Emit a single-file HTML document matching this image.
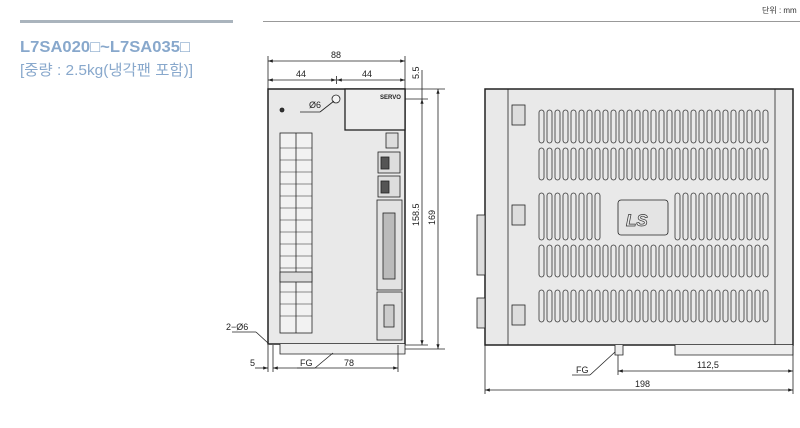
<!DOCTYPE html>
<html><head><meta charset="utf-8"><style>
html,body{margin:0;padding:0;background:#fff;}
svg{display:block;font-family:"Liberation Sans","Noto Sans CJK KR",sans-serif;}
</style></head><body>
<svg width="800" height="428" viewBox="0 0 800 428" xmlns="http://www.w3.org/2000/svg">
<defs>
<marker id="ar" markerWidth="6" markerHeight="6" refX="6" refY="3" orient="auto"><path d="M0,1 L6,3 L0,5z" fill="#222"/></marker>
<marker id="al" markerWidth="6" markerHeight="6" refX="0" refY="3" orient="auto"><path d="M6,1 L0,3 L6,5z" fill="#222"/></marker>
</defs>
<rect x="20" y="20" width="213" height="3" fill="#aab4bd"/>
<line x1="263" y1="21.5" x2="800" y2="21.5" stroke="#999" stroke-width="1"/>
<text x="762" y="13" font-size="8" fill="#333">단위 : mm</text>
<text x="20" y="52" font-size="16" font-weight="bold" fill="#88a8cc" textLength="170" lengthAdjust="spacingAndGlyphs">L7SA020□~L7SA035□</text>
<text x="20" y="75" font-size="15" fill="#88a8cc" textLength="173" lengthAdjust="spacingAndGlyphs">[중량 : 2.5kg(냉각팬 포함)]</text>

<g stroke="#222" stroke-width="0.8" fill="none" font-size="9">
<line x1="268" y1="61" x2="405" y2="61" marker-start="url(#al)" marker-end="url(#ar)"/>
<line x1="268" y1="56" x2="268" y2="89"/><line x1="405" y1="56" x2="405" y2="89"/>
<line x1="268" y1="80" x2="336" y2="80" marker-start="url(#al)" marker-end="url(#ar)"/>
<line x1="337" y1="80" x2="405" y2="80" marker-start="url(#al)" marker-end="url(#ar)"/>
<line x1="336.5" y1="76" x2="336.5" y2="84"/>
<rect x="268" y="89" width="137" height="255" fill="#e9e9e9" stroke-width="1.5"/>
<rect x="345" y="89" width="60" height="41" fill="#eee" stroke-width="1.3"/>
<circle cx="336" cy="99" r="4" fill="#f4f4f4"/>
<circle cx="282" cy="110" r="2" fill="#333"/>
<line x1="300" y1="112" x2="320" y2="112"/><line x1="320" y1="112" x2="334" y2="101"/>
<rect x="280" y="133" width="32" height="200" fill="#f2f2f2"/>
<line x1="296" y1="133" x2="296" y2="333"/>
<g stroke-width="0.6">
<line x1="280" y1="148" x2="312" y2="148"/><line x1="280" y1="160" x2="312" y2="160"/>
<line x1="280" y1="172" x2="312" y2="172"/><line x1="280" y1="184" x2="312" y2="184"/>
<line x1="280" y1="196" x2="312" y2="196"/><line x1="280" y1="208" x2="312" y2="208"/>
<line x1="280" y1="220" x2="312" y2="220"/><line x1="280" y1="232" x2="312" y2="232"/>
<line x1="280" y1="244" x2="312" y2="244"/><line x1="280" y1="256" x2="312" y2="256"/>
<line x1="280" y1="268" x2="312" y2="268"/><line x1="280" y1="280" x2="312" y2="280"/>
<line x1="280" y1="292" x2="312" y2="292"/><line x1="280" y1="304" x2="312" y2="304"/>
<line x1="280" y1="316" x2="312" y2="316"/>
</g>
<rect x="280" y="272" width="32" height="10" fill="#ddd"/>
<rect x="386" y="133" width="12" height="15" fill="#ddd"/>
<rect x="378" y="152" width="22" height="21" fill="#ddd"/>
<rect x="381" y="157" width="8" height="12" fill="#555"/>
<rect x="378" y="176" width="22" height="21" fill="#ddd"/>
<rect x="381" y="181" width="8" height="12" fill="#555"/>
<rect x="377" y="200" width="25" height="90" fill="#e2e2e2"/>
<rect x="383" y="213" width="12" height="66" fill="#bbb"/>
<rect x="377" y="292" width="25" height="48" fill="#e2e2e2"/>
<rect x="384" y="305" width="10" height="22" fill="#ccc"/>
<path d="M280,344 v10 h125 v-10" fill="#eee"/>
<line x1="405" y1="89" x2="445" y2="89"/><line x1="405" y1="99" x2="428" y2="99"/>
<line x1="405" y1="349" x2="445" y2="349"/><line x1="405" y1="345" x2="428" y2="345"/>
<line x1="422" y1="99" x2="422" y2="345" marker-start="url(#al)" marker-end="url(#ar)"/>
<line x1="438" y1="89" x2="438" y2="349" marker-start="url(#al)" marker-end="url(#ar)"/>
<line x1="422" y1="70" x2="422" y2="99"/>
<line x1="268" y1="345" x2="268" y2="372"/><line x1="273" y1="345" x2="273" y2="372"/>
<line x1="398" y1="345" x2="398" y2="372"/>
<line x1="255" y1="368" x2="268" y2="368" marker-end="url(#ar)"/>
<line x1="273" y1="368" x2="398" y2="368" marker-start="url(#al)" marker-end="url(#ar)"/>
<line x1="232" y1="332" x2="256" y2="332"/><line x1="256" y1="332" x2="268" y2="343"/>
<line x1="297" y1="368" x2="315" y2="368"/><line x1="315" y1="368" x2="333" y2="353"/>

<rect x="485" y="89" width="308" height="256" fill="#e9e9e9" stroke-width="1.5"/>
<line x1="508" y1="89" x2="508" y2="345"/>
<line x1="775" y1="89" x2="775" y2="345"/>
<rect x="512" y="105" width="13" height="20" fill="#ddd"/>
<rect x="512" y="205" width="13" height="20" fill="#ddd"/>
<rect x="512" y="305" width="13" height="20" fill="#ddd"/>
<rect x="477" y="215" width="8" height="60" fill="#ddd"/>
<rect x="477" y="298" width="8" height="30" fill="#ddd"/>
<path d="M675,345 v10 h118 v-10" fill="#eee"/>
<path d="M615,345 v10 h8 v-10" fill="#eee"/>
<rect x="618" y="200" width="50" height="35" rx="3" fill="#e4e4e4"/>
</g>
<text x="626" y="226" font-size="17" font-style="italic" font-weight="bold" fill="#e9e9e9" stroke="#333" stroke-width="0.7">LS</text>

<g font-size="9" fill="#222">
<text x="331" y="58">88</text>
<text x="296" y="77">44</text>
<text x="362" y="77">44</text>
<text x="309" y="108">Ø6</text>
<text x="226" y="330">2−Ø6</text>
<text x="250" y="366">5</text>
<text x="344" y="366">78</text>
<text x="300" y="366">FG</text>
<text x="380" y="99" font-size="6" font-weight="bold">SERVO</text>
<text x="576" y="373">FG</text>
<text x="697" y="368">112,5</text>
<text x="635" y="387">198</text>
<text transform="translate(419,226) rotate(-90)">158.5</text>
<text transform="translate(435,225) rotate(-90)">169</text>
<text transform="translate(419,79) rotate(-90)">5.5</text>
</g>
<g stroke="#222" stroke-width="0.8" fill="none">
<line x1="618" y1="355" x2="618" y2="375"/><line x1="793" y1="345" x2="793" y2="394"/>
<line x1="485" y1="345" x2="485" y2="394"/>
<line x1="618" y1="371" x2="793" y2="371" marker-start="url(#al)" marker-end="url(#ar)"/>
<line x1="485" y1="390" x2="793" y2="390" marker-start="url(#al)" marker-end="url(#ar)"/>
<line x1="572" y1="375" x2="590" y2="375"/><line x1="590" y1="375" x2="615" y2="352"/>
</g>
<g fill="none" stroke="#333" stroke-width="0.8">
<g id="s"><rect x="539" y="110" width="5" height="33" rx="2.5"/><rect x="539" y="148" width="5" height="32" rx="2.5"/><rect x="539" y="245" width="5" height="32" rx="2.5"/><rect x="539" y="290" width="5" height="32" rx="2.5"/></g>
<use href="#s" x="8"/><use href="#s" x="16"/><use href="#s" x="24"/><use href="#s" x="32"/><use href="#s" x="40"/><use href="#s" x="48"/><use href="#s" x="56"/><use href="#s" x="64"/><use href="#s" x="72"/><use href="#s" x="80"/><use href="#s" x="88"/><use href="#s" x="96"/><use href="#s" x="104"/><use href="#s" x="112"/><use href="#s" x="120"/><use href="#s" x="128"/><use href="#s" x="136"/><use href="#s" x="144"/><use href="#s" x="152"/><use href="#s" x="160"/><use href="#s" x="168"/><use href="#s" x="176"/><use href="#s" x="184"/><use href="#s" x="192"/><use href="#s" x="200"/><use href="#s" x="208"/><use href="#s" x="216"/><use href="#s" x="224"/>
<g id="m"><rect x="539" y="193" width="5" height="47" rx="2.5"/></g>
<use href="#m" x="8"/><use href="#m" x="16"/><use href="#m" x="24"/><use href="#m" x="32"/><use href="#m" x="40"/><use href="#m" x="48"/><use href="#m" x="56"/>
<use href="#m" x="136"/><use href="#m" x="144"/><use href="#m" x="152"/><use href="#m" x="160"/><use href="#m" x="168"/><use href="#m" x="176"/><use href="#m" x="184"/><use href="#m" x="192"/><use href="#m" x="200"/><use href="#m" x="208"/><use href="#m" x="216"/><use href="#m" x="224"/>
</g>
</svg>
</body></html>
